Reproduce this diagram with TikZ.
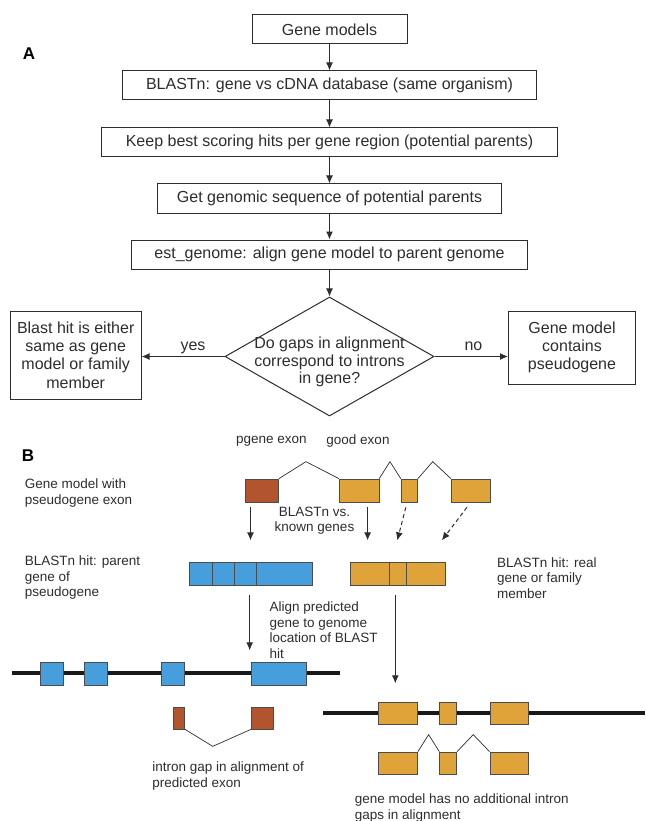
\documentclass[tikz,border=0pt]{standalone}
\usepackage{fontspec}
\setmainfont{Liberation Sans}
\usepackage{tikz}
\usetikzlibrary{calc}
\usetikzlibrary{arrows.meta}
\usetikzlibrary{shapes.geometric}
\definecolor{pgenebrown}{RGB}{178,84,45}
\definecolor{goodgold}{RGB}{224,163,58}
\definecolor{parentblue}{RGB}{70,158,220}
\definecolor{inkgray}{RGB}{45,45,45}
\tikzset{
  every path/.style={
    color=inkgray,
  },
  flowbox/.style={
    draw=inkgray,
    line width=1pt,
    inner sep=0pt,
    minimum height=29pt,
    align=center,
    text=inkgray,
    font=\fontsize{16}{18.3}\selectfont,
  },
  decision/.style={
    diamond,
    draw=inkgray,
    line width=1pt,
    inner sep=0pt,
    minimum width=209pt,
    minimum height=119pt,
  },
  flowtext/.style={
    align=center,
    text=inkgray,
    font=\fontsize{16}{17.7}\selectfont,
  },
  flow/.style={
    line width=1pt,
    -{Latex[length=8pt,width=7pt]},
  },
  panel/.style={
    text=black,
    font=\bfseries\fontsize{17}{20}\selectfont,
  },
  note/.style={
    align=left,
    inner sep=0pt,
    text=inkgray,
    font=\fontsize{13.5}{15.5}\selectfont,
  },
  exon/.style={
    draw=black!70,
    line width=0.7pt,
    inner sep=0pt,
    minimum height=23pt,
  },
  pexon/.style={
    exon,
    fill=pgenebrown,
  },
  gexon/.style={
    exon,
    fill=goodgold,
  },
  bexon/.style={
    exon,
    fill=parentblue,
  },
  exonedge/.style={
    draw=black!70,
    line width=0.7pt,
  },
  intron/.style={
    line width=0.7pt,
  },
  genome/.style={
    line width=3.8pt,
    color=black!90,
  },
  hit/.style={
    line width=1pt,
    -{Latex[length=8pt,width=7pt]},
  },
  guess hit/.style={
    hit,
    dash pattern=on 4pt off 3pt,
  },
}

\begin{document}
\begin{tikzpicture}[x=1pt,y=-1pt]
  \useasboundingbox (0,0) rectangle (645,821);

  \node[panel] (labelA) at (29,54) {A};
  \node[flowbox, minimum width=155pt] (models) at (329.5,29.5) {Gene models};
  \node[flowbox, minimum width=414pt] (blastn) at (329.5,85.5) {BLASTn: gene vs cDNA database (same organism)};
  \node[flowbox, minimum width=456pt] (keep) at (329.5,142.5) {Keep best scoring hits per gene region (potential parents)};
  \node[flowbox, minimum width=344pt] (genomic) at (329.5,198.5) {Get genomic sequence of potential parents};
  \node[flowbox, minimum width=396pt] (estgenome) at (329.5,254.5) {est\_genome: align gene model to parent genome};
  \node[decision] (gaps) at (329.5,356.5) {};
  \node[flowtext] (gapstext) at (329.5,362) {Do gaps in alignment\\correspond to introns\\in gene?};
  \node[flowbox, minimum width=131pt, minimum height=88pt] (samegene) at (75.7,355) {Blast hit is either\\same as gene\\model or family\\member};
  \node[flowbox, minimum width=127pt, minimum height=73pt] (pseudo) at (572,347.5) {Gene model\\contains\\pseudogene};

  \draw[flow] (models) -- (blastn);
  \draw[flow] (blastn) -- (keep);
  \draw[flow] (keep) -- (genomic);
  \draw[flow] (genomic) -- (estgenome);
  \draw[flow] (estgenome) -- (gaps);
  \draw[flow] (gaps.west) -- (gaps.west -| samegene.east)
    node[flowtext, pos=0.38, anchor=base, yshift=6pt] {yes};
  \draw[flow] (gaps.east) -- (gaps.east -| pseudo.west)
    node[flowtext, pos=0.53, anchor=base, yshift=6pt] {no};

  \node[panel] (labelB) at (28,456) {B};
  \node[note] (pgenelabel) at (271.3,441.5) {pgene exon};
  \node[note] (goodlabel) at (358,441.5) {good exon};
  \node[note, anchor=west] (modellabel) at (24.7,493) {Gene model with\\pseudogene exon};

  \node[pexon, minimum width=33pt] (pg) at (262,490.5) {};
  \node[gexon, minimum width=39.5pt] (ga) at (359.1,490.5) {};
  \node[gexon, minimum width=16.4pt] (gb) at (409.3,490.5) {};
  \node[gexon, minimum width=38.6pt] (gc) at (470.6,490.5) {};
  \draw[intron] (pg.north east) -- ($(pg.north east)!0.45!(ga.north west)+(0,-17)$) -- (ga.north west);
  \draw[intron] (ga.north east) -- ($(ga.north east)!0.5!(gb.north west)+(0,-17)$) -- (gb.north west);
  \draw[intron] (gb.north east) -- ($(gb.north east)!0.45!(gc.north west)+(0,-17)$) -- (gc.north west);

  \draw[hit] ([xshift=-11.5pt,yshift=-5pt]pg.south) -- ++(0,33);
  \draw[hit] ([xshift=8.5pt,yshift=-5pt]ga.south) -- ++(0,33);
  \draw[guess hit] ([xshift=-3.5pt,yshift=-5pt]gb.south) -- ++(-8.5,33);
  \draw[guess hit] ([xshift=-3.7pt,yshift=-5pt]gc.south) -- ++(-25,33);
  \node[note, align=center] (vsknown) at (314.5,520.5) {BLASTn vs.\\known genes};

  \node[bexon, minimum width=122.6pt] (parent) at (250.9,573.5) {};
  \foreach \dx in {23.1,44.9,67.1}
    \draw[exonedge] ([xshift=\dx pt]parent.north west) -- ([xshift=\dx pt]parent.south west);
  \node[gexon, minimum width=94.6pt] (realhit) at (397.8,573.5) {};
  \foreach \dx in {39.5,55.9}
    \draw[exonedge] ([xshift=\dx pt]realhit.north west) -- ([xshift=\dx pt]realhit.south west);
  \node[note, anchor=west] (parentlabel) at (24.7,578) {BLASTn hit: parent\\gene of\\pseudogene};
  \node[note, anchor=west] (reallabel) at (496.9,578) {BLASTn hit: real\\gene or family\\member};

  \draw[hit] ([xshift=-1.2pt,yshift=-10pt]parent.south) -- ++(0,55);
  \node[note, anchor=west] (alignlabel) at (269.4,630) {Align predicted\\gene to genome\\location of BLAST\\hit};
  \draw[hit] ([xshift=-2.5pt,yshift=-10pt]realhit.south) -- ++(0,88);

  \draw[genome] (12.3,673) -- (339.8,673);
  \node[bexon, minimum width=23pt] (pa1) at (51.4,673.5) {};
  \node[bexon, minimum width=22.7pt] (pa2) at (95.65,673.5) {};
  \node[bexon, minimum width=23pt] (pa3) at (173.2,673.5) {};
  \node[bexon, minimum width=55.2pt] (pa4) at (278.9,673.5) {};
  \node[pexon, minimum width=11.5pt, minimum height=22pt] (pl1) at (178.95,718) {};
  \node[pexon, minimum width=22.2pt, minimum height=22pt] (pl2) at (262.4,718) {};
  \draw[intron] (pl1.south east) -- ($(pl1.south east)!0.42!(pl2.south west)+(0,17)$) -- (pl2.south west);
  \node[note, anchor=west] (gaplabel) at (152.2,776) {intron gap in alignment of\\predicted exon};

  \draw[genome] (323.3,713) -- (645,713);
  \node[gexon, minimum width=39.1pt, minimum height=22pt] (ra1) at (397.95,713) {};
  \node[gexon, minimum width=16.9pt, minimum height=22pt] (ra2) at (448.15,713) {};
  \node[gexon, minimum width=38.7pt, minimum height=22pt] (ra3) at (509.25,713) {};
  \node[gexon, minimum width=39.1pt, minimum height=22pt] (rm1) at (397.95,763) {};
  \node[gexon, minimum width=16.9pt, minimum height=22pt] (rm2) at (448.15,763) {};
  \node[gexon, minimum width=38.7pt, minimum height=22pt] (rm3) at (509.25,763) {};
  \draw[intron] (rm1.north east) -- ($(rm1.north east)!0.5!(rm2.north west)+(0,-17)$) -- (rm2.north west);
  \draw[intron] (rm2.north east) -- ($(rm2.north east)!0.5!(rm3.north west)+(0,-17)$) -- (rm3.north west);
  \node[note, anchor=west] (nogaplabel) at (354.6,808) {gene model has no additional intron\\gaps in alignment};
\end{tikzpicture}
\end{document}
